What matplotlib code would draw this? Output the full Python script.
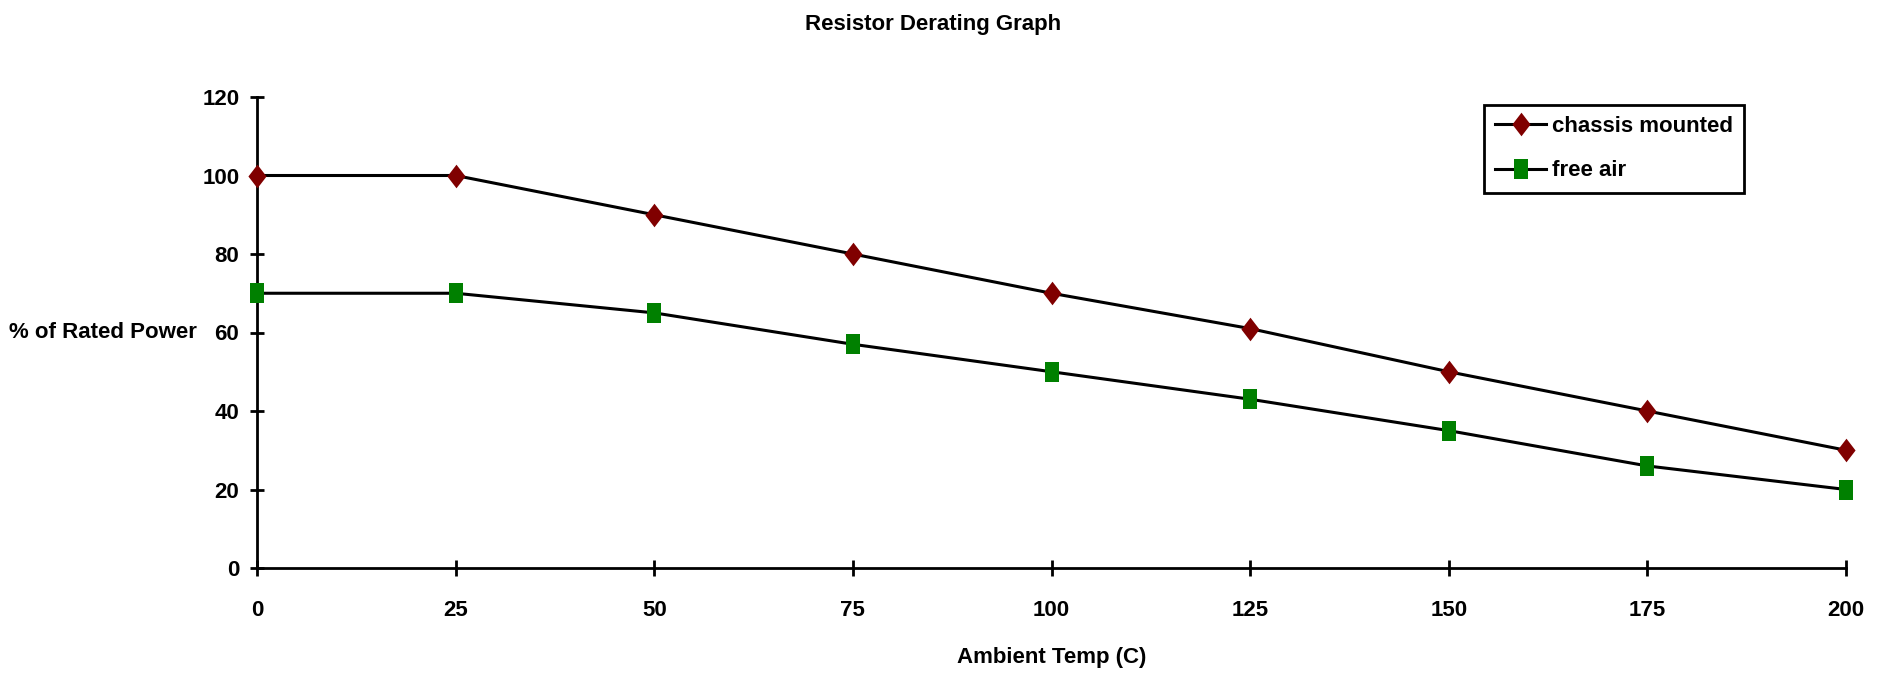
import matplotlib
matplotlib.use("Agg")
from matplotlib import pyplot as plt
import numpy as np

# data
temps = [0, 25, 50, 75, 100, 125, 150, 175, 200]
chassis_mounted = [100, 100, 90, 80, 70, 61, 50, 40, 30]
free_air = [70, 70, 65, 57, 50, 43, 35, 26, 20]
y_ticks = [0, 20, 40, 60, 80, 100, 120]

plt.rcParams['font.family'] = ['Liberation Sans', 'DejaVu Sans']
plt.rcParams['font.weight'] = 'bold'
FS = 16

# markers are a little taller than wide in the reference
diamond = [(0, -1.3), (1, 0), (0, 1.3), (-1, 0), (0, -1.3)]
square = [(-1, -1.4), (1, -1.4), (1, 1.4), (-1, 1.4), (-1, -1.4)]

fig = plt.figure(figsize=(18.87, 6.77), dpi=100)
ax = fig.add_axes([257 / 1887, 1 - 568 / 677, (1846 - 257) / 1887, (568 - 97) / 677])

ax.plot(temps, chassis_mounted, color="black", linewidth=2.2, marker=diamond,
        markersize=17, markerfacecolor="#800000", markeredgecolor="#800000",
        markeredgewidth=0, label="chassis mounted", clip_on=False, zorder=3)
ax.plot(temps, free_air, color="black", linewidth=2.2, marker=square,
        markersize=15, markerfacecolor="#008000", markeredgecolor="#008000",
        markeredgewidth=0, label="free air", clip_on=False, zorder=3)

ax.set_xlim(0, 200)
ax.set_ylim(0, 120)
ax.set_xticks(temps)
ax.set_yticks(y_ticks)

for side in ["top", "right"]:
    ax.spines[side].set_visible(False)
for side in ["left", "bottom"]:
    ax.spines[side].set_linewidth(2)

ax.tick_params(axis="x", direction="inout", length=12, width=2, pad=17, labelsize=FS)
ax.tick_params(axis="y", direction="inout", length=9.5, width=2, pad=8, labelsize=FS)
for lbl in ax.get_xticklabels() + ax.get_yticklabels():
    lbl.set_fontweight("bold")

ax.set_xlabel("Ambient Temp (C)", fontsize=FS, fontweight="bold", va="baseline")
ax.xaxis.set_label_coords(0.5, -95 / 471)
ax.set_ylabel("% of Rated Power", fontsize=FS, fontweight="bold",
              rotation=0, ha="right", va="center")
ax.yaxis.set_label_coords((197 - 257) / 1589, 0.5)

fig.text(933 / 1887, 1 - 30 / 677, "Resistor Derating Graph", fontsize=FS,
         fontweight="bold", ha="center", va="baseline")

leg = ax.legend(loc="upper left", bbox_to_anchor=((1484 - 257) / 1589, (568 - 105) / 471),
                borderaxespad=0, fancybox=False, edgecolor="black", framealpha=1,
                prop={"size": FS, "weight": "bold"}, handlelength=2.3,
                handletextpad=0.27, borderpad=0.5, labelspacing=1.05)
leg.get_frame().set_linewidth(2)

fig.patch.set_facecolor("white")
fig.savefig("out.png", dpi=100, facecolor="white")
